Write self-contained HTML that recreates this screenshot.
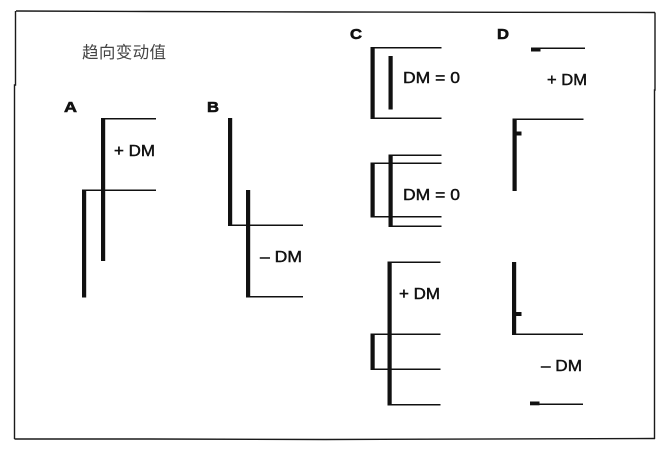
<!DOCTYPE html>
<html><head><meta charset="utf-8"><style>
html,body{margin:0;padding:0;background:#fff;}
svg{display:block;}
text{font-family:"Liberation Sans","Noto Sans CJK SC",sans-serif;fill:#111;}
.l{font-weight:bold;font-size:15px;stroke:#111;stroke-width:0.6;}
.t{font-size:16px;stroke:#111;stroke-width:0.45;}
</style></head><body>
<svg width="661" height="452" viewBox="0 0 661 452" xmlns="http://www.w3.org/2000/svg">
<!-- border -->
<g stroke="#1a1a1a" stroke-width="1.4" fill="none">
<path d="M16,11 L150,11.5 L325,12 L655,12.5"/>
<path d="M15.5,11 L15.5,85 L14.5,85 L14.5,439"/>
<path d="M14.5,439 L150,439 L325,439.5 L655,438.5"/>
<path d="M655,12.5 L655,90 L654.5,90 L654.5,439"/>
</g>
<text x="82" y="58" style="font-size:16.5px;fill:#444;font-family:'Liberation Sans','Noto Sans CJK SC',sans-serif" textLength="84">趋向变动值</text>
<!-- labels -->
<text class="l" x="64" y="112" textLength="13" lengthAdjust="spacingAndGlyphs">A</text>
<text class="l" x="207" y="112" textLength="12" lengthAdjust="spacingAndGlyphs">B</text>
<text class="l" x="350" y="39" textLength="12" lengthAdjust="spacingAndGlyphs">C</text>
<text class="l" x="497" y="39" textLength="12" lengthAdjust="spacingAndGlyphs">D</text>
<g fill="#111">
<!-- A -->
<rect x="101" y="118" width="4.2" height="143"/>
<rect x="101" y="118" width="55" height="1.5"/>
<rect x="82" y="189.5" width="74" height="1.5"/>
<rect x="82" y="189.5" width="4.2" height="108"/>
<!-- B -->
<rect x="228" y="118" width="4.2" height="108"/>
<rect x="228" y="224.5" width="75" height="1.5"/>
<rect x="246" y="190" width="4.2" height="107.5"/>
<rect x="246" y="296" width="57" height="1.5"/>
<!-- C top -->
<rect x="370.5" y="47" width="71" height="1.5"/>
<rect x="370.5" y="47" width="4.2" height="72"/>
<rect x="370.5" y="117.5" width="71" height="1.5"/>
<rect x="388.5" y="56" width="4.2" height="53.5"/>
<!-- C mid -->
<rect x="388.5" y="154.5" width="53" height="1.5"/>
<rect x="370.5" y="162.5" width="71" height="1.5"/>
<rect x="370.5" y="162.5" width="4.2" height="54.5"/>
<rect x="388.5" y="154.5" width="4.2" height="72"/>
<rect x="370.5" y="216" width="71" height="1.5"/>
<rect x="388.5" y="225.5" width="53" height="1.5"/>
<!-- C bottom -->
<rect x="387.5" y="261.5" width="4.2" height="144"/>
<rect x="387.5" y="261.5" width="53" height="1.5"/>
<rect x="370.5" y="333.5" width="70" height="1.5"/>
<rect x="370.5" y="368.5" width="70" height="1.5"/>
<rect x="387.5" y="404" width="53" height="1.5"/>
<rect x="370.5" y="333.5" width="4.2" height="36.5"/>
<!-- D top -->
<rect x="531" y="47.5" width="9.5" height="4"/>
<rect x="540" y="47.5" width="45" height="1.5"/>
<rect x="512.5" y="118.5" width="71" height="1.5"/>
<rect x="512.5" y="118.5" width="4.2" height="72.5"/>
<rect x="516" y="131.5" width="5.5" height="4"/>
<!-- D bottom -->
<rect x="512" y="262" width="4.2" height="72.5"/>
<rect x="512" y="333.5" width="71" height="1.5"/>
<rect x="515.5" y="312" width="6" height="4"/>
<rect x="530" y="401.5" width="9.5" height="3.8"/>
<rect x="539" y="403.5" width="44" height="1.5"/>
</g>
<!-- DM labels -->
<text class="t" x="114" y="156" textLength="41" lengthAdjust="spacingAndGlyphs">+ DM</text>
<text class="t" x="260" y="262" textLength="42" lengthAdjust="spacingAndGlyphs">– DM</text>
<text class="t" x="403" y="83" textLength="57" lengthAdjust="spacingAndGlyphs">DM = 0</text>
<text class="t" x="403" y="200" textLength="57" lengthAdjust="spacingAndGlyphs">DM = 0</text>
<text class="t" x="399" y="299" textLength="41" lengthAdjust="spacingAndGlyphs">+ DM</text>
<text class="t" x="547" y="85" textLength="40" lengthAdjust="spacingAndGlyphs">+ DM</text>
<text class="t" x="541" y="371" textLength="41" lengthAdjust="spacingAndGlyphs">– DM</text>
</svg>
</body></html>
